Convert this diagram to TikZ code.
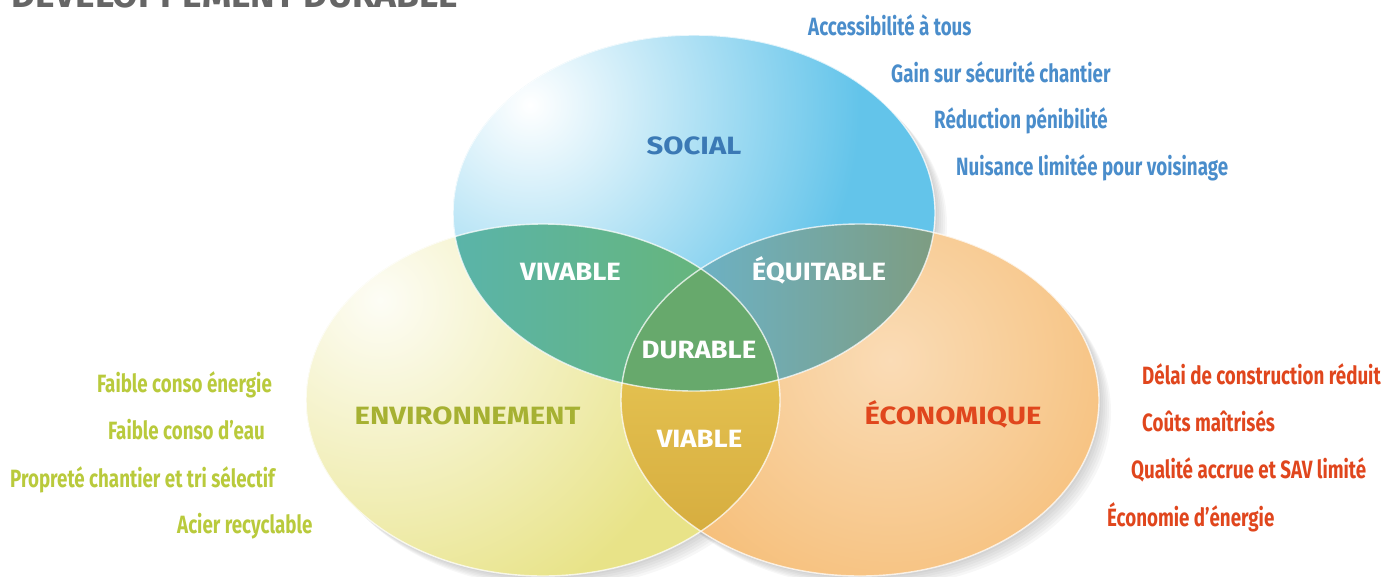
\documentclass[tikz,border=0pt]{standalone}
\usepackage{fontspec}
\setmainfont{Fira Sans}
\newfontfamily\itemfont{Fira Sans}[FakeStretch=0.75]
\newfontfamily\polefont{Fira Sans}[FakeStretch=1.17]
\newfontfamily\zonefont{Fira Sans}[FakeStretch=1.1]
\definecolor{csoc}{HTML}{63C4EA}
\definecolor{cenv}{HTML}{E8E388}
\definecolor{ceco}{HTML}{F6BF7A}
\definecolor{cvivl}{HTML}{5AB4AA}
\definecolor{cvivr}{HTML}{66B57C}
\definecolor{cequl}{HTML}{6CB2C6}
\definecolor{cequr}{HTML}{7E9C80}
\definecolor{cdur}{HTML}{67A96C}
\definecolor{cviat}{HTML}{E3C04F}
\definecolor{cviab}{HTML}{D3A83B}
\definecolor{tsoc}{HTML}{4A8DCB}
\definecolor{tsocd}{HTML}{3B79B5}
\definecolor{tenv}{HTML}{B9CA3C}
\definecolor{tenvd}{HTML}{A6B132}
\definecolor{teco}{HTML}{E0461D}
\definecolor{ttitle}{HTML}{666666}
\newcommand*{\pathsoc}{(694,213) ellipse [x radius=241, y radius=178]}
\newcommand*{\pathenv}{(543,400) ellipse [x radius=237, y radius=176]}
\newcommand*{\patheco}{(860,400) ellipse [x radius=239, y radius=176]}
\tikzset{
    item/.style={anchor=base west, inner sep=0pt, font=\itemfont\bfseries\fontsize{25}{25}\selectfont},
    pole/.style={anchor=base, inner sep=0pt, font=\polefont\bfseries\fontsize{25}{25}\selectfont},
    zone/.style={anchor=base, inner sep=0pt, text=white, font=\zonefont\bfseries\fontsize{25}{25}\selectfont},
    rim/.style={draw=white, line width=1.4pt, opacity=.75},
}

\begin{document}
\begin{tikzpicture}[x=1pt, y=-1pt]
    \useasboundingbox (0, 0) rectangle (1381, 576);
    % soft shadow
    \foreach \s in {2, 4, ..., 12} {
        \begin{scope}[shift={(\s, \s)}]
            \fill[black, opacity=.03] \pathsoc;
            \fill[black, opacity=.03] \pathenv;
            \fill[black, opacity=.03] \patheco;
        \end{scope}
    }
    % the three sets
    \begin{scope}
        \clip \pathenv;
        \fill[cenv] \pathenv;
        \shade[inner color=white!92!cenv, outer color=cenv] (380, 300) circle (340);
    \end{scope}
    \begin{scope}
        \clip \patheco;
        \fill[ceco] \patheco;
        \shade[inner color=ceco!55!white, outer color=ceco] (890, 360) circle (260);
    \end{scope}
    \begin{scope}
        \clip \pathsoc;
        \fill[csoc] \pathsoc;
        \shade[inner color=white, outer color=csoc] (530, 105) circle (330);
    \end{scope}
    % overlaps
    \begin{scope}
        \clip \pathsoc; \clip \pathenv;
        \shade[left color=cvivl, right color=cvivr] (450, 220) rectangle (705, 400);
    \end{scope}
    \begin{scope}
        \clip \pathsoc; \clip \patheco;
        \shade[left color=cequl, right color=cequr] (690, 220) rectangle (940, 400);
    \end{scope}
    \begin{scope}
        \clip \pathenv; \clip \patheco;
        \shade[top color=cviat, bottom color=cviab] (615, 380) rectangle (785, 576);
    \end{scope}
    \begin{scope}
        \clip \pathsoc; \clip \pathenv; \clip \patheco;
        \fill[cdur] (600, 200) rectangle (800, 400);
    \end{scope}
    \draw[rim] \pathenv;
    \draw[rim] \patheco;
    \draw[rim] \pathsoc;
    % labels
    \node[anchor=base west, inner sep=0pt, text=ttitle, font=\bfseries\fontsize{37}{37}\selectfont] (title) at (11, 7.5) {DÉVELOPPEMENT DURABLE};
    \node[pole, text=tsocd] (social) at (694, 154) {SOCIAL};
    \node[pole, text=tenvd] (envir) at (467.5, 424) {ENVIRONNEMENT};
    \node[pole, text=teco] (econo) at (953, 424) {ÉCONOMIQUE};
    \node[zone] (vivable) at (570.5, 280) {VIVABLE};
    \node[zone] (equitable) at (819, 280) {ÉQUITABLE};
    \node[zone] (durable) at (699, 358) {DURABLE};
    \node[zone] (viable) at (699.5, 447) {VIABLE};
    % social
    \node[item, text=tsoc] (soc1) at (808, 35) {Accessibilité à tous};
    \node[item, text=tsoc] (soc2) at (891, 82) {Gain sur sécurité chantier};
    \node[item, text=tsoc] (soc3) at (934, 128) {Réduction pénibilité};
    \node[item, text=tsoc] (soc4) at (956, 175) {Nuisance limitée pour voisinage};
    % environnement
    \node[item, text=tenv] (env1) at (97, 392) {Faible conso énergie};
    \node[item, text=tenv] (env2) at (108, 439) {Faible conso d’eau};
    \node[item, text=tenv] (env3) at (10, 487) {Propreté chantier et tri sélectif};
    \node[item, text=tenv] (env4) at (177, 533) {Acier recyclable};
    % economique
    \node[item, text=teco] (eco1) at (1142, 384) {Délai de construction réduit};
    \node[item, text=teco] (eco2) at (1142, 431) {Coûts maîtrisés};
    \node[item, text=teco] (eco3) at (1131, 478) {Qualité accrue et SAV limité};
    \node[item, text=teco] (eco4) at (1107, 526) {Économie d’énergie};
\end{tikzpicture}
\end{document}
